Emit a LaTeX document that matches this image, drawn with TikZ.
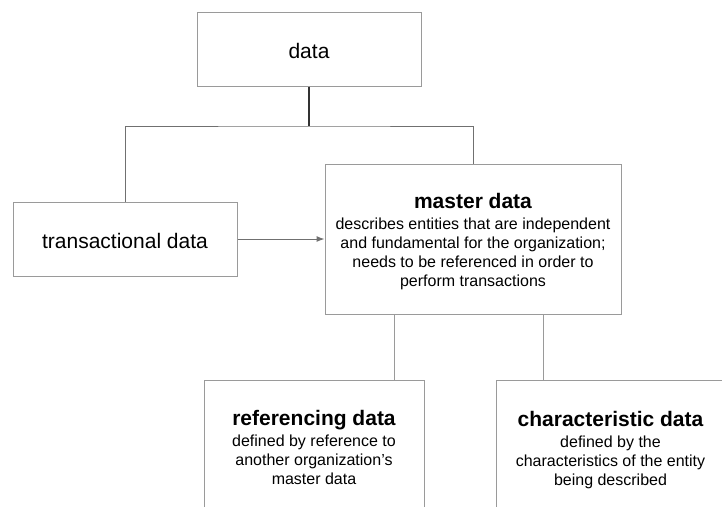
\documentclass[tikz,border=0pt]{standalone}
\usepackage{fontspec}
\setmainfont{Liberation Sans}
\usetikzlibrary{calc,arrows.meta}

\definecolor{framegray}{HTML}{9A9A9A}
\definecolor{stemgray}{HTML}{333333}
\definecolor{linkgray}{HTML}{707070}
\definecolor{lowgray}{HTML}{9A9A9A}

\newcommand{\boxtitle}[1]{{\fontsize{21}{21}\selectfont\bfseries\rule{0pt}{20pt}#1}}

\tikzset{
  databox/.style={draw=framegray, line width=1pt, align=center, inner sep=0pt,
    font=\fontsize{16}{19}\selectfont},
  bigtext/.style={font=\fontsize{21}{24}\selectfont, text height=18pt, text depth=0pt},
  stem/.style={draw=stemgray, line width=1.8pt},
  link/.style={draw=linkgray, line width=1pt},
  lowlink/.style={draw=lowgray, line width=1pt},
}

\begin{document}
\begin{tikzpicture}[x=1pt,y=-1pt,line cap=butt,line join=miter,>={Latex[length=8pt,width=6pt]}]
  \useasboundingbox (0,0) rectangle (722,506);
  \clip (0,0) rectangle (722,506);
  % boxes
  \node[databox,bigtext,minimum width=224,minimum height=74] (data) at (309,49) {data};
  \node[databox,bigtext,minimum width=224,minimum height=74] (trans) at (125,239) {transactional data};
  \node[databox,minimum width=296,minimum height=150] (master) at (473,239)
    {\boxtitle{master data}\\[2pt]
     describes entities that are independent\\
     and fundamental for the organization;\\
     needs to be referenced in order to\\
     perform transactions};
  \node[databox,minimum width=220,minimum height=129,anchor=north] (refdata) at (314,380)
    {\boxtitle{referencing data}\\[2pt]
     defined by reference to\\
     another organization’s\\
     master data};
  \node[databox,minimum width=228,minimum height=134,anchor=north west] (chardata) at (496,380)
    {\boxtitle{characteristic data}\\[2pt]
     defined by the\\
     characteristics of the entity\\
     being described};
  % connectors
  \coordinate (split) at (309,126);
  \draw[stem] (data.south) -- (split);
  \draw[link] (trans.north) |- (split) -| (master.north);
  \draw[link,->] (trans.east) -- (master.west);
  \coordinate (rtap) at ($(master.south west)!0.236!(master.south east)$);
  \coordinate (ctap) at ($(master.south west)!0.736!(master.south east)$);
  \draw[lowlink] (rtap) -- (rtap |- refdata.north);
  \draw[lowlink] (ctap) -- (ctap |- chardata.north);
\end{tikzpicture}
\end{document}
